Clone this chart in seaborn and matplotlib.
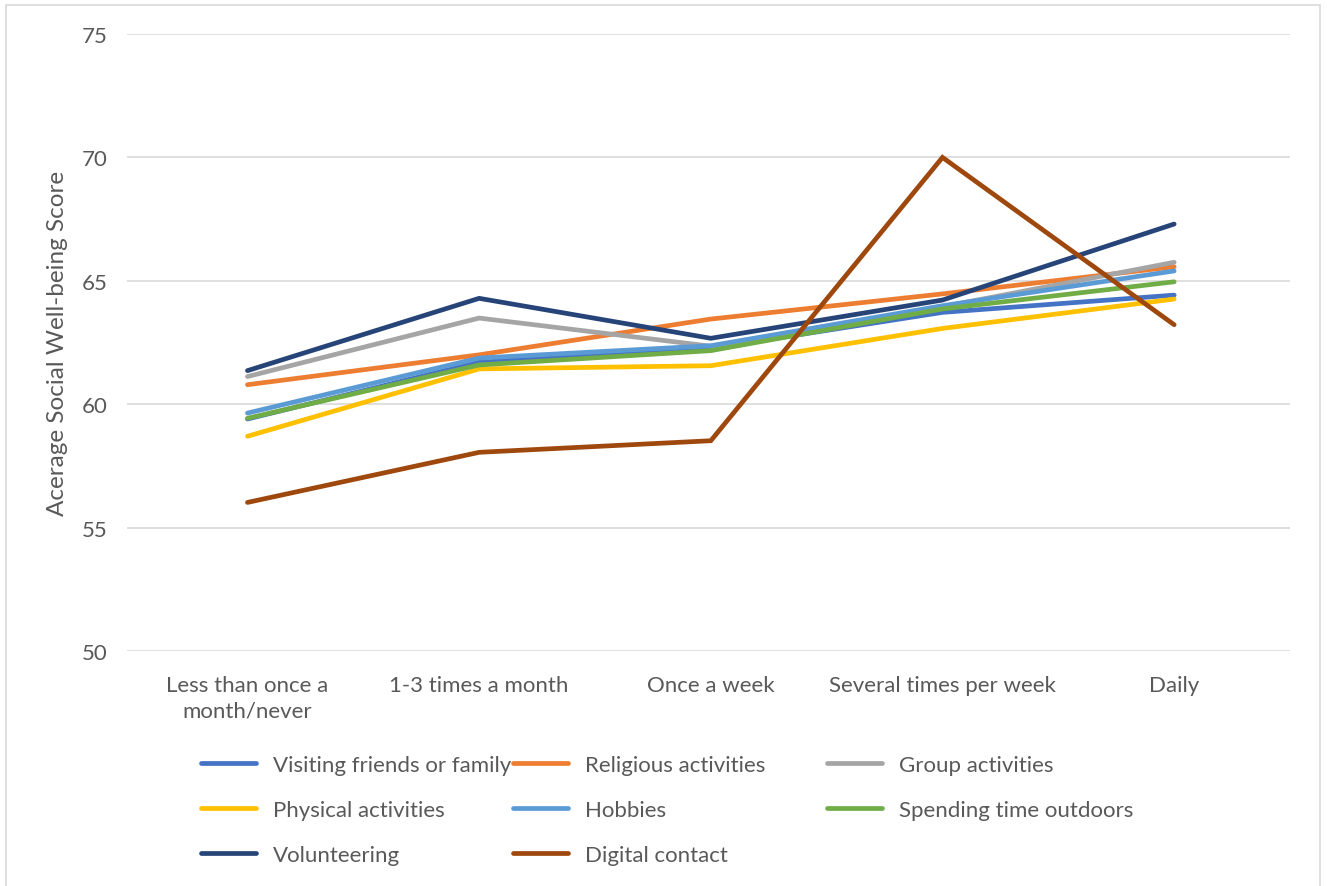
import matplotlib
matplotlib.use("Agg")
import matplotlib.pyplot as plt
from matplotlib.patches import Rectangle
import pandas as pd
import seaborn as sns

frequencies = ["Less than once a\nmonth/never", "1-3 times a month", "Once a week",
               "Several times per week", "Daily"]

visiting_friends = [59.40, 61.70, 62.26, 63.72, 64.42]
religious = [60.79, 62.00, 63.45, 64.47, 65.57]
group = [61.12, 63.49, 62.35, 63.95, 65.75]
physical = [58.70, 61.43, 61.56, 63.07, 64.26]
hobbies = [59.64, 61.87, 62.37, 63.99, 65.40]
outdoors = [59.43, 61.59, 62.17, 63.86, 64.96]
volunteering = [61.36, 64.29, 62.67, 64.22, 67.30]
digital = [56.02, 58.05, 58.52, 70.00, 63.22]

series_names = ["Visiting friends or family", "Religious activities", "Group activities",
                "Physical activities", "Hobbies", "Spending time outdoors",
                "Volunteering", "Digital contact"]
series_values = [visiting_friends, religious, group, physical, hobbies, outdoors,
                 volunteering, digital]
colors = ["#4472C4", "#ED7D31", "#A5A5A5", "#FFC000", "#5B9BD5", "#70AD47",
          "#264478", "#9E480E"]

rows = []
for name, vals in zip(series_names, series_values):
    for i, v in enumerate(vals):
        rows.append({"Activity": name, "pos": i, "Score": v})
df = pd.DataFrame(rows)

sns.set_theme(style="white")
plt.rcParams["font.family"] = ["Lato", "DejaVu Sans"]
text_color = "#595959"
fs = 16

fig = plt.figure(figsize=(13.27, 8.87), dpi=100)
ax = fig.add_axes([127 / 1327, 1 - 652 / 887, (1290 - 127) / 1327, (652 - 35) / 887])

sns.lineplot(data=df, x="pos", y="Score", hue="Activity", hue_order=series_names,
             palette=colors, linewidth=3.4, ax=ax, legend=True, sort=False,
             solid_capstyle="round", solid_joinstyle="miter")

ax.set_xlim(-0.52, 4.5)
ax.set_ylim(50, 75)
ax.set_yticks([50, 55, 60, 65, 70, 75])
ax.set_xticks(range(len(frequencies)))
ax.set_xticklabels(frequencies, fontsize=fs, color=text_color, linespacing=1.35)
ax.tick_params(axis="y", labelsize=fs, labelcolor=text_color, pad=14, length=0)
ax.tick_params(axis="x", pad=17, length=0)
ax.yaxis.grid(True, color="#D9D9D9", linewidth=1.2)
ax.set_axisbelow(True)
for s in ax.spines.values():
    s.set_visible(False)
ax.set_xlabel("")
ax.set_ylabel("Acerage Social Well-being Score", fontsize=17.5, color=text_color)
ax.yaxis.set_label_coords(-0.051, 0.5)

# Legend laid out row by row in three equally spaced columns
handles, labels = ax.get_legend_handles_labels()
ax.get_legend().remove()
col_x = [192, 504, 818]
for c in range(3):
    idx = list(range(c, len(handles), 3))
    fig.legend([handles[i] for i in idx], [labels[i] for i in idx],
               loc="upper left", bbox_to_anchor=(col_x[c] / 1327, 1 - 747 / 887),
               ncol=1, frameon=False, fontsize=fs, handlelength=2.5,
               handletextpad=0.75, labelspacing=1.12, labelcolor=text_color,
               borderaxespad=0.0)

fig.patches.append(Rectangle((6 / 1327, -0.02), (1320 - 6) / 1327, 1.02 - 6 / 887,
                             transform=fig.transFigure, fill=False,
                             edgecolor="#D9D9D9", linewidth=1.2))

fig.savefig("out.png", dpi=100, facecolor="white")
